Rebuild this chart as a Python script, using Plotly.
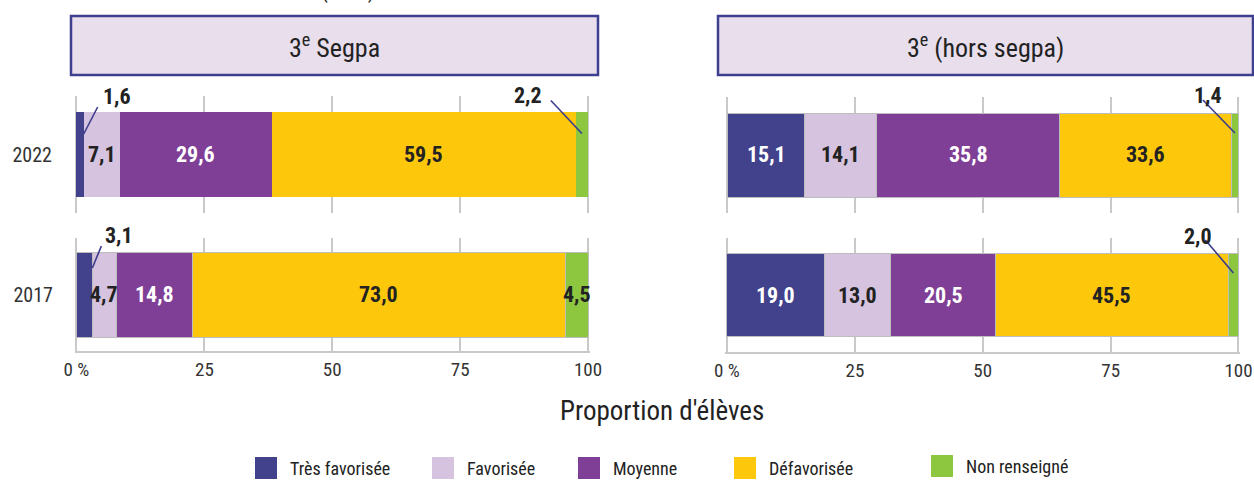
import plotly.graph_objects as go

# ---------------- data ----------------
categories = ["Très favorisée", "Favorisée", "Moyenne", "Défavorisée", "Non renseigné"]
years = ["2022", "2017"]
panels = ["3<sup>e</sup> Segpa", "3<sup>e</sup> (hors segpa)"]

segpa_2022 = [1.6, 7.1, 29.6, 59.5, 2.2]
segpa_2017 = [3.1, 4.7, 14.8, 73.0, 4.5]
hors_2022 = [15.1, 14.1, 35.8, 33.6, 1.4]
hors_2017 = [19.0, 13.0, 20.5, 45.5, 2.0]

x_tick_vals = [0, 25, 50, 75, 100]
x_tick_text = ["0 %", "25", "50", "75", "100"]
x_title = "Proportion d'élèves"
top_title = "(en %)"

# ---------------- style ----------------
W, H = 1254, 481
colors = ["#41418C", "#D6C3DF", "#7F3F96", "#FDC70C", "#8DC63F"]
label_colors = ["white", "#222222", "white", "#222222", "#222222"]
FONT = "Liberation Sans Narrow, Roboto Condensed, DejaVu Sans Condensed, Arial Narrow, sans-serif"
GRID = "#C9C9C9"
LEADER = "#3C3C8C"


def px_x(p):
    return p / W


def px_y(p):
    return 1 - p / H


# pixel geometry of each subplot: (x0 px, x100 px, top px, bottom px, bar top, bar bottom)
geom = [
    (75.5, 587.5, 96, 213, 112, 197),    # left 2022
    (76.5, 588.0, 238, 351, 252, 337),   # left 2017
    (727.5, 1238.5, 97, 213, 113, 197),  # right 2022
    (727.0, 1238.5, 238, 352, 254, 337), # right 2017
]
series = [segpa_2022, segpa_2017, hors_2022, hors_2017]
outlined = [False, True, True, True]
# leader-line specs for small segments: index -> (head_frac, head_dy_px, tail_dx, tail_dy, text_dx, text_dy)
leaders = [
    {0: (1.0, -20.5, 14, -27, 33, -38), 4: (0.5, -21, -31, -33, -54, -38)},
    {0: (1.0, -26.5, 9, -22, 27, -33)},
    {4: (0.5, -22, -32, -33, -27, -37)},
    {4: (0.5, -22, -28, -33, -35, -37)},
]

fig = go.Figure()
annotations = []
shapes = []
PAD = 0.3
LABEL_SIZE = 22

for k, (vals, g) in enumerate(zip(series, geom)):
    x0p, x100p, top, bot, btop, bbot = g
    ppu = (x100p - x0p) / 100.0
    xa = "x" if k == 0 else f"x{k+1}"
    ya = "y" if k == 0 else f"y{k+1}"
    xname = "xaxis" if k == 0 else f"xaxis{k+1}"
    yname = "yaxis" if k == 0 else f"yaxis{k+1}"
    bar_w = (bbot - btop) / (bot - top)
    is_bottom = k in (1, 3)
    is_left = k in (0, 1)
    year = years[0] if k in (0, 2) else years[1]

    fig.update_layout({
        xname: dict(
            domain=[px_x(x0p - PAD * ppu), px_x(x100p + PAD * ppu)],
            range=[-PAD, 100 + PAD], anchor=ya, automargin=False,
            tickvals=x_tick_vals, ticktext=x_tick_text,
            showgrid=True, gridcolor=GRID, gridwidth=1.5, zeroline=False,
            showline=is_bottom, linecolor=GRID, linewidth=1.5,
            showticklabels=is_bottom, ticks="", ticklabelstandoff=0,
            tickfont=dict(family=FONT, size=19, color="#333333"),
            fixedrange=True,
        ),
        yname: dict(
            domain=[px_y(bot), px_y(top)], range=[-0.5, 0.5], anchor=xa,
            automargin=False,
            tickvals=[0], ticktext=[year], showticklabels=is_left,
            showgrid=False, zeroline=False, showline=False, ticks="",
            ticklabelstandoff=21,
            tickfont=dict(family=FONT, size=20, color="#333333"),
            fixedrange=True,
        ),
    })

    cum = 0.0
    for i, v in enumerate(vals):
        fig.add_trace(go.Bar(
            x=[v], y=[0], base=[cum], orientation="h", width=bar_w,
            marker=dict(color=colors[i],
                        line=dict(color="#BDBDBD" if outlined[k] else colors[i],
                                  width=1 if outlined[k] else 0)),
            xaxis=xa, yaxis=ya, showlegend=False, hoverinfo="skip",
        ))
        txt = f"{v:.1f}".replace(".", ",")
        lab_font = dict(family=FONT, size=LABEL_SIZE, color=label_colors[i])
        if i in leaders[k]:
            hf, hdy, tdx, tdy, sdx, sdy = leaders[k][i]
            hx = cum + v * hf
            hy = -hdy / (bot - top)
            shapes.append(dict(
                type="line", xref=xa, yref=ya,
                xsizemode="pixel", xanchor=hx, x0=0, x1=tdx,
                ysizemode="pixel", yanchor=hy, y0=0, y1=-tdy,
                line=dict(color=LEADER, width=1.6),
            ))
            annotations.append(dict(
                x=hx, y=hy, xref=xa, yref=ya, text=f"<b>{txt}</b>",
                showarrow=False, xshift=sdx, yshift=-sdy,
                xanchor="center", yanchor="middle",
                font=dict(family=FONT, size=LABEL_SIZE, color="#222222"),
            ))
        else:
            annotations.append(dict(
                x=cum + v / 2, y=0, xref=xa, yref=ya, text=f"<b>{txt}</b>",
                showarrow=False, xanchor="center", yanchor="middle", font=lab_font,
            ))
        cum += v

# panel header boxes
boxes = [(71, 598), (718, 1253)]
for (bx0, bx1), title in zip(boxes, panels):
    shapes.append(dict(
        type="rect", xref="paper", yref="paper",
        x0=px_x(bx0), x1=px_x(bx1), y0=px_y(75), y1=px_y(16),
        fillcolor="#E8DEEC", line=dict(color="#3F3F8F", width=2.5), layer="below",
    ))
    annotations.append(dict(
        x=px_x((bx0 + bx1) / 2), y=px_y(46), xref="paper", yref="paper",
        text=title, showarrow=False, xanchor="center", yanchor="middle",
        font=dict(family=FONT, size=26, color="#222222"),
    ))

# clipped top title
annotations.append(dict(
    x=px_x(348), y=px_y(-9), xref="paper", yref="paper", text=top_title,
    showarrow=False, xanchor="center", yanchor="middle",
    font=dict(family=FONT, size=22, color="#222222"),
))

# x axis title
annotations.append(dict(
    x=px_x(662), y=px_y(411), xref="paper", yref="paper", text=x_title,
    showarrow=False, xanchor="center", yanchor="middle",
    font=dict(family=FONT, size=27, color="#222222"),
))

# legend (manual)
legend_left = [255, 432, 578, 734, 931]
legend_cy = [468, 468, 468, 468, 466]
SW = 22
for name, col, lx, cy in zip(categories, colors, legend_left, legend_cy):
    shapes.append(dict(
        type="rect", xref="paper", yref="paper",
        x0=px_x(lx), x1=px_x(lx + SW), y0=px_y(cy + SW / 2), y1=px_y(cy - SW / 2),
        fillcolor=col, line=dict(width=0),
    ))
    annotations.append(dict(
        x=px_x(lx + SW + 11), y=px_y(cy), xref="paper", yref="paper",
        text=name, showarrow=False, xanchor="left", yanchor="middle",
        font=dict(family=FONT, size=18, color="#222222"),
    ))

fig.update_layout(
    width=W, height=H, barmode="stack", autosize=False,
    margin=dict(l=0, r=0, t=0, b=0, pad=0),
    paper_bgcolor="white", plot_bgcolor="rgba(0,0,0,0)",
    annotations=annotations, shapes=shapes, showlegend=False,
    font=dict(family=FONT, color="#222222"),
)

fig.write_html(
    "out.html",
    config={"displayModeBar": False, "responsive": False},
    post_script="document.body.style.margin='0';document.body.style.overflow='hidden';",
)
